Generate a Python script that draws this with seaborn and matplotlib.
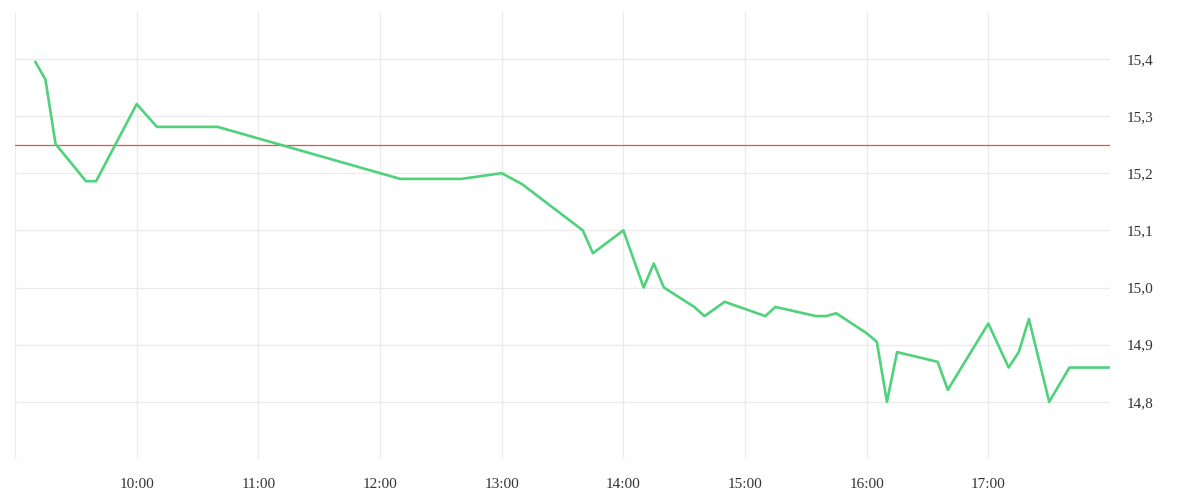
import pandas as pd
import matplotlib
matplotlib.use("Agg")
import matplotlib.pyplot as plt
import matplotlib.dates as mdates
import matplotlib.ticker as mticker
import seaborn as sns

# price series (time, value)
times = ["09:10", "09:15", "09:20", "09:35", "09:40", "10:00", "10:10", "10:40",
         "12:10", "12:40", "13:00", "13:10", "13:40", "13:45", "14:00", "14:10",
         "14:15", "14:20", "14:35", "14:40", "14:50", "15:10", "15:15", "15:35",
         "15:40", "15:45", "16:00", "16:05", "16:10", "16:15", "16:35", "16:40",
         "17:00", "17:10", "17:15", "17:20", "17:30", "17:40", "18:00"]
prices = [15.395, 15.364, 15.251, 15.186, 15.186, 15.321, 15.281, 15.281,
          15.19, 15.19, 15.2, 15.181, 15.1, 15.06, 15.1, 15.0,
          15.042, 15.0, 14.966, 14.95, 14.975, 14.95, 14.966, 14.95,
          14.95, 14.955, 14.92, 14.905, 14.8, 14.887, 14.87, 14.821,
          14.937, 14.86, 14.887, 14.945, 14.8, 14.86, 14.86]
reference_level = 15.25

hour_ticks = ["09:00", "10:00", "11:00", "12:00", "13:00", "14:00",
              "15:00", "16:00", "17:00", "18:00"]
y_ticks = [14.7, 14.8, 14.9, 15.0, 15.1, 15.2, 15.3, 15.4]

day = "2024-01-02 "
df = pd.DataFrame({"time": pd.to_datetime([day + t for t in times]), "price": prices})
tick_dt = pd.to_datetime([day + t for t in hour_ticks])

sns.set_style("white")
plt.rcParams["font.family"] = ["Liberation Serif", "DejaVu Serif"]

fig = plt.figure(figsize=(12, 5), dpi=100)
ax = fig.add_axes([15 / 1200, 41 / 500, 1095 / 1200, 447 / 500])

grid_color = "#ebebeb"
sns.lineplot(data=df, x="time", y="price", color="#4fd27b", linewidth=1.9, ax=ax, zorder=3)
ax.axhline(reference_level, color="#f44b4b", linewidth=0.9, zorder=2)

ax.set_xlim(tick_dt[0], tick_dt[-1])
ax.set_ylim(14.7, 15.482)

ax.xaxis.set_major_locator(mticker.FixedLocator(mdates.date2num(tick_dt)))
ax.xaxis.set_major_formatter(mticker.FuncFormatter(
    lambda v, p: "" if p in (0, len(hour_ticks) - 1) else mdates.num2date(v).strftime("%H:%M")))
ax.yaxis.set_major_locator(mticker.FixedLocator(y_ticks))
ax.yaxis.set_major_formatter(mticker.FuncFormatter(
    lambda v, p: "" if p == 0 else f"{v:.1f}".replace(".", ",")))

ax.yaxis.tick_right()
ax.grid(True, color=grid_color, linewidth=1)
for s in ax.spines.values():
    s.set_visible(False)

ax.tick_params(axis="x", length=6.5, width=1, color=grid_color, pad=7,
               labelsize=11, labelcolor="#333333")
ax.tick_params(axis="y", length=0, pad=12, labelsize=11, labelcolor="#333333")
ax.set_xlabel("")
ax.set_ylabel("")

fig.savefig("out.png", dpi=100)
